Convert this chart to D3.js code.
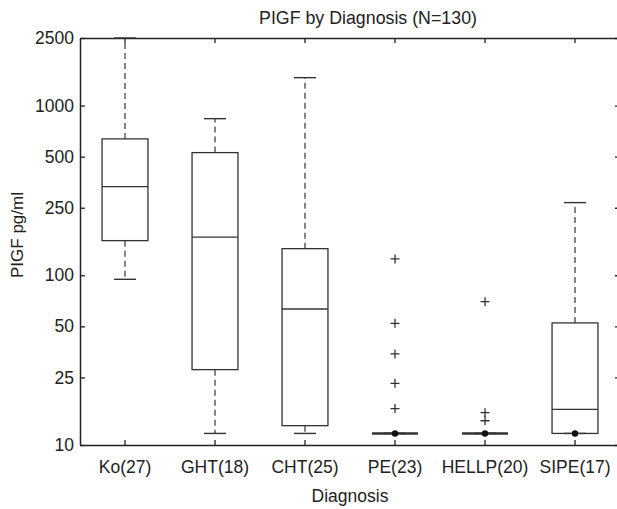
<!DOCTYPE html>
<html>
<head>
<meta charset="utf-8">
<script src="https://cdn.jsdelivr.net/npm/d3@7"></script>
<style>
  html, body { margin: 0; padding: 0; background: #fff; }
  svg { display: block; }
  text { font-family: "Liberation Sans", Arial, Helvetica, sans-serif; fill: #222; }
</style>
</head>
<body>
<svg id="chart" width="617" height="509"></svg>
<script>
// ---- data ----
const categories = ["Ko(27)", "GHT(18)", "CHT(25)", "PE(23)", "HELLP(20)", "SIPE(17)"];
const lowerWhisker = [94.7, 11.7, 11.7, 11.7, 11.7, 11.7];
const q1Values = [160, 27.8, 13.0, 11.7, 11.7, 11.7];
const medianValues = [333, 168, 63.3, 11.7, 11.7, 16.2];
const q3Values = [636, 528, 143.5, 11.7, 11.7, 52.4];
const upperWhisker = [2500, 837, 1460, 11.7, 11.7, 268];
const outlierValues = [[], [], [], [124.8, 52.1, 34.4, 23.1, 16.4], [69.9, 15.5, 13.9], []];
const floorDots = [null, null, null, 11.7, 11.7, 11.7];
const yTickValues = [10, 25, 50, 100, 250, 500, 1000, 2500];
const titleText = "PIGF by Diagnosis (N=130)";
const xLabelText = "Diagnosis";
const yLabelText = "PIGF pg/ml";

(function () {
// ---- layout ----
const mLeft = 80, mRight = 620, mTop = 38, mBottom = 445;
const svg = d3.select("#chart");

const x = d3.scaleBand().domain(categories).range([mLeft, mRight]).padding(0);
const y = d3.scaleLog().domain([10, 2500]).range([mBottom, mTop]);
const cx = c => x(c) + x.bandwidth() / 2;
const boxW = x.bandwidth() * 0.51;
const capW = boxW * 0.48;
const ink = "#333";
const fontStack = "'Liberation Sans', Arial, Helvetica, sans-serif";

const rows = categories.map((c, i) => ({
  cat: c, lo: lowerWhisker[i], q1: q1Values[i], med: medianValues[i],
  q3: q3Values[i], hi: upperWhisker[i], out: outlierValues[i], dot: floorDots[i]
}));

const g = svg.append("g");

const yAxisL = d3.axisLeft(y).tickValues(yTickValues).tickFormat(d3.format("d")).tickSizeInner(-5).tickSizeOuter(0).tickPadding(6);
const gyl = g.append("g").attr("transform", `translate(${mLeft},0)`).call(yAxisL);
const yAxisR = d3.axisRight(y).tickValues(yTickValues).tickFormat("").tickSizeInner(-5).tickSizeOuter(0);
const gyr = g.append("g").attr("transform", `translate(${mRight},0)`).call(yAxisR);
const xAxisB = d3.axisBottom(x).tickSizeInner(-5).tickSizeOuter(0).tickPadding(16);
const gxb = g.append("g").attr("transform", `translate(0,${mBottom})`).call(xAxisB);
const xAxisT = d3.axisTop(x).tickFormat("").tickSizeInner(-5).tickSizeOuter(0);
const gxt = g.append("g").attr("transform", `translate(0,${mTop})`).call(xAxisT);

[gyl, gyr, gxb, gxt].forEach(a => {
  a.select(".domain").attr("stroke", "#222").attr("stroke-width", 1.5);
  a.selectAll(".tick line").attr("stroke", "#222").attr("stroke-width", 1.3);
  a.selectAll(".tick text").attr("font-size", 17.5).attr("fill", "#222")
    .style("font-family", fontStack);
});

const box = g.append("g").selectAll("g.box").data(rows).join("g").attr("class", "box");

box.append("line")
  .attr("x1", d => cx(d.cat)).attr("x2", d => cx(d.cat))
  .attr("y1", d => y(d.q3)).attr("y2", d => y(d.hi))
  .attr("stroke", ink).attr("stroke-width", 1.2).attr("stroke-dasharray", "6,4");
box.append("line")
  .attr("x1", d => cx(d.cat)).attr("x2", d => cx(d.cat))
  .attr("y1", d => y(d.q1)).attr("y2", d => y(d.lo))
  .attr("stroke", ink).attr("stroke-width", 1.2).attr("stroke-dasharray", "6,4");
box.append("line")
  .attr("x1", d => cx(d.cat) - capW / 2).attr("x2", d => cx(d.cat) + capW / 2)
  .attr("y1", d => y(d.hi)).attr("y2", d => y(d.hi))
  .attr("stroke", ink).attr("stroke-width", 1.4);
box.append("line")
  .attr("x1", d => cx(d.cat) - capW / 2).attr("x2", d => cx(d.cat) + capW / 2)
  .attr("y1", d => y(d.lo)).attr("y2", d => y(d.lo))
  .attr("stroke", ink).attr("stroke-width", 1.4);
box.append("rect")
  .attr("x", d => cx(d.cat) - boxW / 2).attr("width", boxW)
  .attr("y", d => y(d.q3)).attr("height", d => y(d.q1) - y(d.q3))
  .attr("fill", "none").attr("stroke", ink)
  .attr("stroke-width", d => d.q1 === d.q3 ? 2.6 : 1.3);
box.append("line")
  .attr("x1", d => cx(d.cat) - boxW / 2).attr("x2", d => cx(d.cat) + boxW / 2)
  .attr("y1", d => y(d.med)).attr("y2", d => y(d.med))
  .attr("stroke", ink).attr("stroke-width", d => d.q1 === d.q3 ? 2.6 : 1.3);
box.filter(d => d.dot !== null).append("circle")
  .attr("cx", d => cx(d.cat)).attr("cy", d => y(d.dot)).attr("r", 3.2)
  .attr("fill", "#111");
box.each(function (d) {
  d3.select(this).selectAll("path.out").data(d.out).join("path").attr("class", "out")
    .attr("d", v => {
      const px = cx(d.cat), py = y(v), s = 4.5;
      return `M${px - s},${py}H${px + s}M${px},${py - s}V${py + s}`;
    })
    .attr("stroke", ink).attr("stroke-width", 1.3).attr("fill", "none");
});

svg.append("text").attr("x", 368).attr("y", 24).attr("text-anchor", "middle")
  .attr("font-size", 17.8).text(titleText);
svg.append("text").attr("x", 350).attr("y", 502).attr("text-anchor", "middle")
  .attr("font-size", 17.5).text(xLabelText);
svg.append("text").attr("transform", "translate(23,235) rotate(-90)").attr("text-anchor", "middle")
  .attr("font-size", 17).text(yLabelText);
})();
</script>
</body>
</html>
